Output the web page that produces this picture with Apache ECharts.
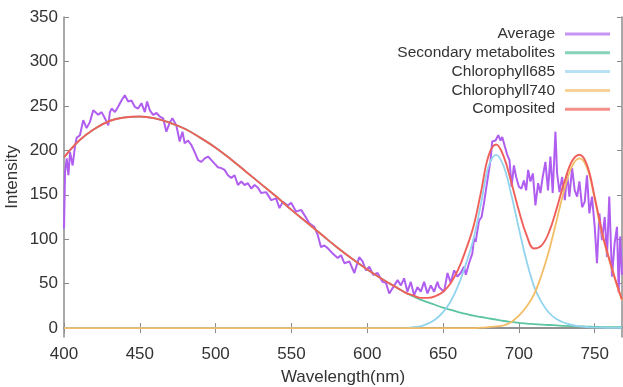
<!DOCTYPE html>
<html>
<head>
<meta charset="utf-8">
<script src="https://cdn.jsdelivr.net/npm/echarts@6/dist/echarts.min.js"></script>
<style>
  html, body { margin: 0; padding: 0; background: #fff; }
  #chart { width: 623px; height: 387px; }
</style>
</head>
<body>
<div id="chart"></div>
<script>
// fitted components, sampled on a common wavelength grid (nm)
const wavelengths = [
  400, 410, 420, 430, 440, 450, 460, 470, 480, 490, 500, 510, 520, 530, 540, 550,
  560, 570, 580, 590, 600, 610, 620, 625, 630, 635, 640, 645, 650, 655, 660, 665,
  670, 675, 680, 685, 690, 695, 700, 705, 710, 715, 720, 725, 730, 735, 740, 745,
  750, 755, 760, 765, 768
];
const secondary = [
  192, 211, 224, 233, 237, 238, 236, 231, 224, 214, 203, 190, 176, 162, 148, 133,
  119, 105, 91, 78, 66, 55, 45, 40, 36, 32, 29, 26, 23, 20.5, 18, 16,
  14, 12.5, 11, 9.5, 8, 7, 6, 5, 4.5, 4, 3.5, 3, 2.5, 2.2, 2, 1.7,
  1.5, 1.2, 1, 1, 1
];
const chl685 = [
  0, 0, 0, 0, 0, 0, 0, 0, 0, 0, 0, 0, 0, 0, 0, 0,
  0, 0, 0, 0, 0, 0, 0, 0, 1, 2, 5, 10, 18, 30, 48, 72,
  100, 140, 182, 195, 182, 150, 112, 76, 47, 29, 17, 10, 6, 3.5, 2, 1.2,
  0.8, 0.5, 0.3, 0.2, 0.2
];
const chl740 = [
  0, 0, 0, 0, 0, 0, 0, 0, 0, 0, 0, 0, 0, 0, 0, 0,
  0, 0, 0, 0, 0, 0, 0, 0, 0, 0, 0, 0, 0, 0, 0, 0,
  0, 0.5, 1, 2, 3, 7, 14, 24, 38, 60, 88, 122, 156, 182, 191, 180,
  145, 105, 74, 46, 31
];
const composited = [
  192, 211, 224, 233, 237, 238, 236, 231, 224, 214, 203, 190, 176, 162, 148, 133,
  119, 105, 91, 78, 66, 55, 45, 40, 37, 34, 34, 36, 41, 50.5, 66, 88,
  114, 153, 194, 206.5, 193, 164, 132, 105, 89.5, 93, 108.5, 135, 164.5, 187.7, 195, 183,
  147.3, 106.7, 75.3, 47.2, 32.2
];

// measured average spectrum
const avgWavelengths = [
  400.0, 400.7, 401.8, 402.9, 404.0, 405.7, 407.2, 408.3, 410.5, 412.7, 414.9, 417.1,
  419.3, 422.6, 424.8, 427.0, 429.2, 430.3, 431.4, 433.6, 435.7, 437.9, 440.1, 442.3,
  444.5, 446.7, 448.9, 451.1, 453.3, 454.8, 456.6, 458.8, 461.0, 463.2, 465.4, 467.5,
  469.7, 471.5, 474.1, 476.3, 478.1, 479.6, 481.8, 484.0, 486.2, 488.4, 490.6, 492.8,
  495.0, 497.2, 499.3, 501.5, 503.7, 505.9, 508.1, 510.3, 512.5, 514.7, 516.9, 519.1,
  521.3, 523.5, 525.7, 527.9, 530.0, 533.3, 536.6, 539.9, 542.1, 544.3, 547.6, 549.8,
  553.1, 556.4, 559.7, 561.8, 565.1, 567.3, 569.5, 571.7, 573.9, 577.2, 580.5, 582.7,
  584.9, 588.2, 591.5, 594.7, 596.9, 599.1, 601.3, 603.9, 606.8, 610.1, 612.3, 614.5,
  616.7, 620.0, 622.2, 624.3, 626.5, 628.7, 630.9, 633.1, 635.3, 637.5, 639.7, 641.9,
  644.1, 646.3, 647.4, 650.7, 652.9, 655.0, 657.3, 659.4, 661.6, 663.8, 665.0, 667.1,
  669.3, 670.4, 671.5, 673.7, 675.4, 677.0, 679.2, 681.3, 682.4, 684.6, 686.4, 687.9,
  689.0, 690.8, 692.3, 693.8, 695.2, 696.7, 698.2, 700.0, 701.7, 703.3, 704.8, 706.1,
  707.6, 709.2, 710.9, 712.7, 714.2, 715.7, 717.5, 719.2, 720.8, 722.3, 724.1, 725.2,
  726.8, 728.5, 730.3, 731.8, 733.3, 735.1, 736.8, 738.4, 739.9, 741.7, 743.4, 744.9,
  746.5, 748.2, 750.0, 751.5, 753.1, 754.8, 756.6, 758.1, 759.6, 761.4, 763.1, 764.7,
  765.8, 766.8, 768.0
];
const average = [
  112, 176, 191, 172, 198, 183, 204, 214, 217, 234, 225, 232,
  245, 240, 243, 236, 228, 243, 247, 243, 249, 256, 262, 255,
  256, 249, 247, 253, 243, 255, 245, 240, 242, 238, 236, 221,
  231, 236, 228, 210, 221, 208, 211, 206, 198, 189, 187, 191,
  193, 189, 185, 181, 180, 178, 172, 169, 172, 161, 165, 161,
  163, 157, 161, 158, 152, 153, 144, 146, 135, 142, 138, 141,
  131, 133, 124, 118, 114, 105, 91, 93, 90, 84, 79, 82,
  73, 75, 62, 80, 75, 65, 69, 60, 62, 52, 51, 39,
  45, 54, 48, 56, 41, 52, 37, 46, 41, 52, 39, 48,
  41, 52, 46, 41, 62, 51, 65, 58, 62, 69, 60, 73,
  84, 101, 97, 121, 125, 141, 166, 189, 210, 211, 217, 211,
  215, 204, 195, 189, 159, 183, 170, 159, 157, 166, 155, 178,
  165, 174, 138, 163, 152, 170, 187, 155, 193, 152, 221, 174,
  153, 170, 144, 174, 148, 180, 155, 148, 165, 136, 142, 172,
  129, 148, 114, 73, 129, 99, 125, 80, 148, 58, 95, 114,
  40, 103, 60
];

const xTicks = [400, 450, 500, 550, 600, 650, 700, 750];
const yTicks = [0, 50, 100, 150, 200, 250, 300, 350];

const pair = (xs, ys) => xs.map((x, i) => [x, ys[i]]);

const chart = echarts.init(document.getElementById("chart"), null, { renderer: "canvas" });

const axisGray = "#8c8c8c";
const font = "Liberation Sans, Arial";
const labelStyle = { color: "#333", fontSize: 17, fontFamily: font };

const option = {
  animation: false,
  grid: { left: 64, right: 1, top: 17, bottom: 50, containLabel: false, outerBoundsMode: "none" },
  legend: {
    orient: "vertical",
    right: 8,
    top: 21,
    align: "right",
    icon: "rect",
    itemWidth: 45,
    itemHeight: 3,
    itemGap: 2.8,
    textStyle: { color: "#333", fontSize: 15.5, fontFamily: font, lineHeight: 16, padding: [0, 5, 0, 0] },
    data: ["Average", "Secondary metabolites", "Chlorophyll685", "Chlorophyll740", "Composited"],
  },
  xAxis: [
    {
      type: "value",
      min: 400,
      max: 768,
      interval: 50,
      name: "Wavelength(nm)",
      nameLocation: "middle",
      nameGap: 32,
      nameMoveOverlap: false,
      nameTextStyle: { color: "#333", fontSize: 17, fontFamily: font },
      axisLine: { show: true, lineStyle: { color: axisGray, width: 1.5 } },
      axisTick: { inside: true, length: 5, customValues: xTicks, lineStyle: { color: axisGray } },
      axisLabel: { ...labelStyle, margin: 9, customValues: xTicks },
      splitLine: { show: false },
    },
    {
      type: "value",
      position: "top",
      min: 400,
      max: 768,
      interval: 50,
      axisLine: { show: true, lineStyle: { color: axisGray, width: 1.5 } },
      axisTick: { inside: true, length: 5, customValues: xTicks, lineStyle: { color: axisGray } },
      axisLabel: { show: false },
      splitLine: { show: false },
    },
  ],
  yAxis: [
    {
      type: "value",
      min: -10,
      max: 350,
      name: "Intensity",
      nameLocation: "middle",
      nameGap: 43,
      nameMoveOverlap: false,
      nameTextStyle: { color: "#333", fontSize: 17, fontFamily: font },
      axisLine: { show: true, lineStyle: { color: axisGray, width: 1.5 } },
      axisTick: { inside: true, length: 5, customValues: yTicks, lineStyle: { color: axisGray } },
      axisLabel: { ...labelStyle, margin: 6, customValues: yTicks },
      splitLine: { show: false },
    },
    {
      type: "value",
      position: "right",
      min: -10,
      max: 350,
      axisLine: { show: true, lineStyle: { color: axisGray, width: 1.5 } },
      axisTick: { inside: true, length: 5, customValues: yTicks, lineStyle: { color: axisGray } },
      axisLabel: { show: false },
      splitLine: { show: false },
    },
  ],
  series: [
    {
      name: "Average",
      type: "line",
      data: pair(avgWavelengths, average),
      symbol: "none",
      lineStyle: { color: "#b05ef0", width: 2 },
      itemStyle: { color: "#c794f4" },
    },
    {
      name: "Secondary metabolites",
      type: "line",
      smooth: 0.4,
      data: pair(wavelengths, secondary),
      symbol: "none",
      lineStyle: { color: "#5cc4a0", width: 1.8 },
      itemStyle: { color: "#86d3b8" },
    },
    {
      name: "Chlorophyll685",
      type: "line",
      smooth: 0.4,
      data: pair(wavelengths, chl685),
      symbol: "none",
      lineStyle: { color: "#92d4ee", width: 1.8 },
      itemStyle: { color: "#b8e2f3" },
    },
    {
      name: "Chlorophyll740",
      type: "line",
      smooth: 0.4,
      data: pair(wavelengths, chl740),
      symbol: "none",
      lineStyle: { color: "#f2bd66", width: 1.8 },
      itemStyle: { color: "#f6d296" },
    },
    {
      name: "Composited",
      type: "line",
      smooth: 0.4,
      data: pair(wavelengths, composited),
      symbol: "none",
      lineStyle: { color: "#f0605a", width: 1.9 },
      itemStyle: { color: "#f58e88" },
    },
  ],
};

chart.setOption(option);
</script>
</body>
</html>
